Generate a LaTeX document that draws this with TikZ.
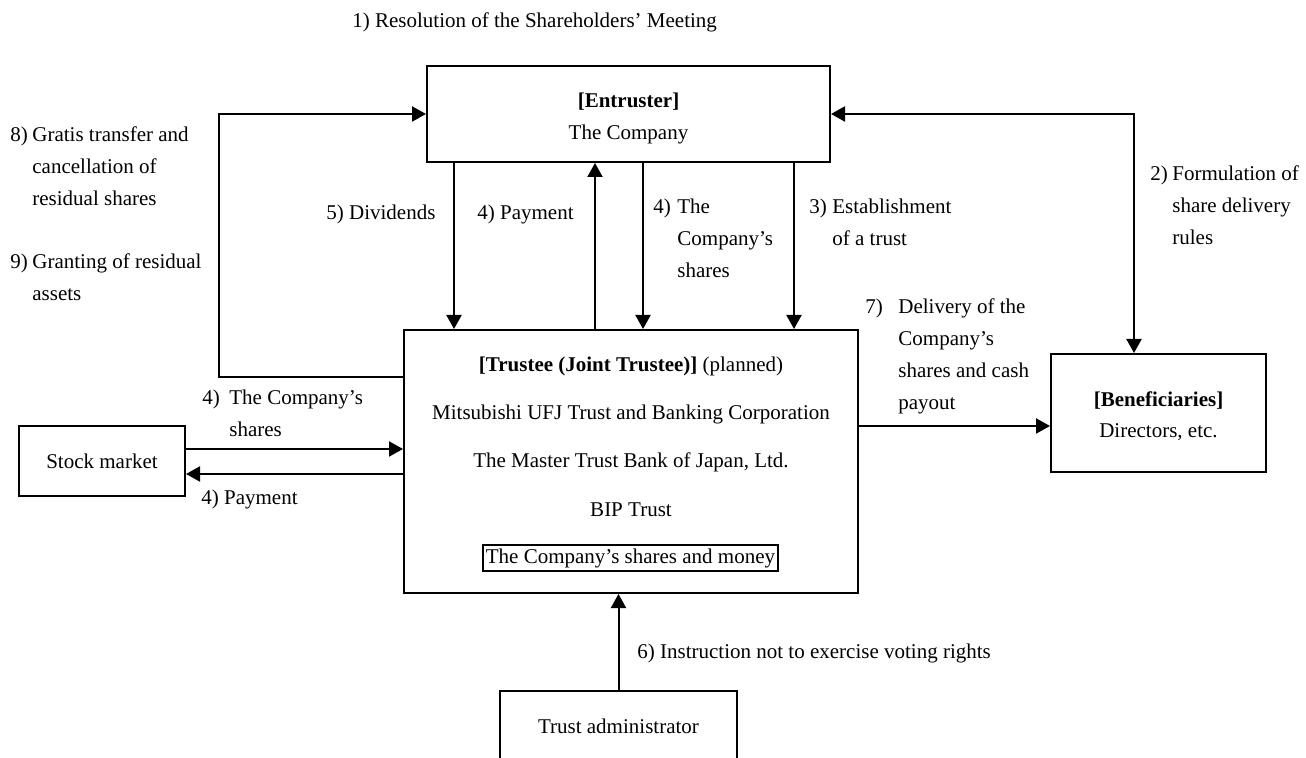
\documentclass[tikz,border=0pt]{standalone}
\usepackage{fontspec}
\setmainfont{Liberation Serif}
\usetikzlibrary{arrows.meta}
\begin{document}
\begin{tikzpicture}[x=0.5pt,y=-0.5pt,
  every node/.style={font=\fontsize{10.5}{16}\selectfont},
  box/.style={draw,line width=1pt,inner sep=0pt},
  lbl/.style={inner sep=0pt,anchor=base west,align=left},
  ctr/.style={inner sep=0pt,anchor=base},
  arr/.style={line width=1pt,-{Triangle[length=7pt,width=7.5pt]}},
  darr/.style={line width=1pt,{Triangle[length=7pt,width=7.5pt]}-{Triangle[length=7pt,width=7.5pt]}}]
\useasboundingbox (0,0) rectangle (1306,758);
\clip (0,0) rectangle (1306,758);
% boxes
\node[box,minimum width=201.5pt,minimum height=48pt] (ent) at (628.5,114) {};
\node[box,minimum width=227pt,minimum height=131.5pt] (tru) at (631,461.5) {};
\node[box,minimum width=147.5pt,minimum height=13pt] (inner) at (630.5,558) {The Company’s shares and money};
\node[box,minimum width=83pt,minimum height=35pt] (stock) at (102,461) {Stock market};
\node[box,minimum width=107.5pt,minimum height=59pt] (ben) at (1158.5,413) {};
\node[box,minimum width=118.5pt,minimum height=42pt] (adm) at (618.5,733) {};
% box texts
\node[ctr] (entA) at (628.5,108) {\textbf{[Entruster]}};
\node[ctr] (entB) at (628.5,140) {The Company};
\node[ctr] (truA) at (631,372) {\textbf{[Trustee (Joint Trustee)]} (planned)};
\node[ctr] (truB) at (631,420) {Mitsubishi UFJ Trust and Banking Corporation};
\node[ctr] (truC) at (631,468) {The Master Trust Bank of Japan, Ltd.};
\node[ctr] (truD) at (631,517) {BIP Trust};
\node[ctr] (benA) at (1158.5,407) {\textbf{[Beneficiaries]}};
\node[ctr] (benB) at (1158.5,438) {Directors, etc.};
\node[ctr] (admA) at (618.5,733) {Trust administrator};
% connectors
\draw[arr] (tru.west |- 0,377) -- (219,377) |- (ent.west);
\draw[darr] (ent.east) -- (1134,114) -- (ben.north -| 1134,0);
\draw[arr] (ent.south -| 454,0) -- (tru.north -| 454,0);
\draw[arr] (tru.north -| 595,0) -- (ent.south -| 595,0);
\draw[arr] (ent.south -| 643,0) -- (tru.north -| 643,0);
\draw[arr] (ent.south -| 794,0) -- (tru.north -| 794,0);
\draw[arr] (stock.east |- 0,449) -- (tru.west |- 0,449);
\draw[arr] (tru.west |- 0,474) -- (stock.east |- 0,474);
\draw[arr] (tru.east |- 0,426) -- (ben.west |- 0,426);
\draw[arr] (adm.north) -- (tru.south -| adm.north);
% labels (multi-line labels are anchored at the baseline of their last line)
\node[lbl] (l1) at (352,28) {1) Resolution of the Shareholders’ Meeting};
\node[lbl] (l5) at (326,220) {5) Dividends};
\node[lbl] (l4p) at (477,220) {4) Payment};
\node[lbl] (l4s) at (653,278) {\makebox[12pt][l]{4)}The\\\hspace*{12pt}Company’s\\\hspace*{12pt}shares};
\node[lbl] (l3) at (809,246) {\makebox[11.5pt][l]{3)}Establishment\\\hspace*{11.5pt}of a trust};
\node[lbl] (l8) at (10,206) {\makebox[11pt][l]{8)}Gratis transfer and\\\hspace*{11pt}cancellation of\\\hspace*{11pt}residual shares};
\node[lbl] (l9) at (10,301) {\makebox[11pt][l]{9)}Granting of residual\\\hspace*{11pt}assets};
\node[lbl] (l2) at (1150,245) {\makebox[11pt][l]{2)}Formulation of\\\hspace*{11pt}share delivery\\\hspace*{11pt}rules};
\node[lbl] (l7) at (865,410) {\makebox[16.5pt][l]{7)}Delivery of the\\\hspace*{16.5pt}Company’s\\\hspace*{16.5pt}shares and cash\\\hspace*{16.5pt}payout};
\node[lbl] (l4c) at (202,437) {\makebox[13.5pt][l]{4)}The Company’s\\\hspace*{13.5pt}shares};
\node[lbl] (l4m) at (201,505) {4) Payment};
\node[lbl] (l6) at (637,658) {6) Instruction not to exercise voting rights};
\end{tikzpicture}
\end{document}
